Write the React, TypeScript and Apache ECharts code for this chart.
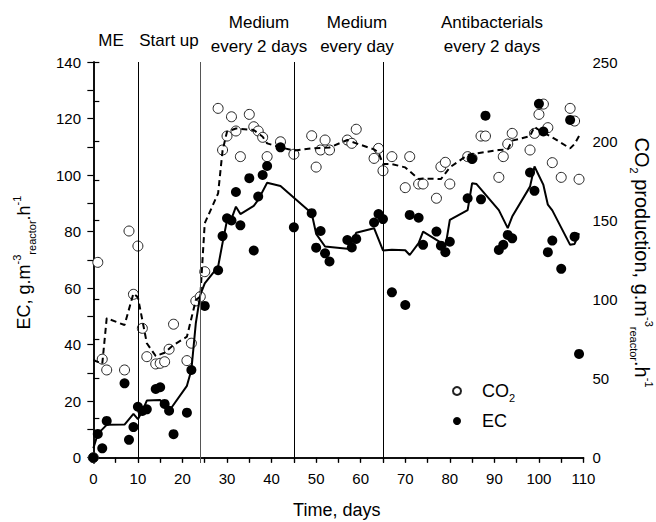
import React, { useEffect, useRef } from "react";
import * as echarts from "echarts";

// ---- Data ----
const co2Days = [0, 1, 2, 3, 7, 8, 9, 10, 11, 12, 14, 15, 16, 17, 18, 21, 22, 23, 24, 25, 28, 29, 30, 31, 32, 33, 35, 36, 37, 38, 39, 42, 45, 49, 50, 51, 52, 53, 57, 58, 59, 63, 64, 65, 67, 70, 71, 73, 74, 77, 78, 79, 80, 84, 85, 87, 88, 91, 92, 93, 94, 98, 99, 100, 101, 102, 103, 105, 107, 108, 109];
const co2Values = [0, 123.4, 62.2, 55.4, 55.4, 143.2, 103.2, 133.7, 81.7, 63.8, 59.2, 59.6, 60.6, 68.5, 84.3, 61.3, 72.3, 99, 101.7, 117.5, 220.7, 194.4, 203.2, 215.4, 206.4, 190.2, 216.9, 209.1, 206.4, 202.4, 190.2, 199.6, 191.7, 203.4, 183.6, 194.4, 200.7, 194.4, 200.7, 198.6, 207.5, 189.1, 195.4, 181.3, 190.2, 170.6, 190.2, 172.9, 172.9, 163.9, 183.8, 186.6, 172.9, 190.2, 189.1, 203.2, 203.2, 177.1, 190.2, 198.2, 204.9, 194.4, 204.9, 216.9, 223.4, 208.5, 186.4, 177.1, 220.7, 212.7, 175.9];

const ecDays = [0, 1, 2, 3, 7, 8, 9, 10, 11, 12, 14, 15, 16, 17, 18, 21, 22, 25, 28, 29, 30, 31, 32, 33, 35, 36, 37, 38, 39, 42, 45, 49, 50, 51, 52, 53, 57, 58, 59, 63, 64, 65, 67, 70, 71, 73, 74, 77, 78, 79, 80, 84, 85, 87, 88, 91, 92, 93, 94, 98, 99, 100, 101, 102, 103, 105, 107, 108, 109];
const ecValues = [0, 8.4, 3.3, 13.0, 26.3, 6.3, 10.8, 18.0, 16.5, 17.1, 24.3, 24.9, 19.0, 16.6, 8.3, 15.9, 31.0, 53.7, 66.3, 78.4, 84.7, 83.9, 94.0, 82.2, 98.9, 73.3, 92.4, 100.0, 103.2, 109.8, 81.5, 86.5, 74.3, 80.2, 72.3, 69.4, 77.0, 74.4, 77.4, 83.2, 86.2, 84.4, 58.5, 54.0, 85.9, 84.9, 75.3, 80.0, 75.0, 72.7, 76.4, 91.8, 105.7, 91.4, 121.0, 73.5, 75.3, 78.8, 77.6, 100.9, 94.4, 125.2, 115.4, 72.7, 76.8, 66.8, 119.5, 78.2, 36.7];

const ecLineDays = [0, 1, 3, 7, 9, 10, 11, 12, 15, 16, 17, 21, 22, 23, 24, 25, 28, 29, 30, 31, 32, 33, 36, 37, 39, 42, 49, 50, 52, 57, 58, 59, 63, 65, 67, 70, 71, 73, 74, 78, 79, 80, 84, 85, 86, 91, 93, 94, 98, 99, 101, 102, 103, 107, 108, 109];
const ecLineValues = [3.3, 8.4, 11.6, 11.7, 15.5, 13.6, 16.5, 20.2, 20.4, 18.0, 16.5, 25.4, 31.0, 47.6, 57.6, 61.7, 67.6, 76, 84, 84.5, 88.8, 86.2, 89.1, 91.2, 97.3, 96.1, 86.5, 79.2, 74.7, 73.9, 76.1, 79.6, 81.2, 73.3, 73.6, 73.4, 71.7, 75.9, 80.0, 76.1, 74.5, 84.1, 87.6, 97.1, 96.8, 87.6, 81.2, 85.3, 95.9, 103, 96.5, 89.5, 87.5, 75.3, 75.6, 79.4];

const co2LineDays = [0, 2, 3, 7, 9, 10, 12, 14, 16, 18, 21, 23, 24, 25, 28, 29, 30, 31, 32, 36, 38, 39, 42, 45, 49, 53, 57, 59, 63, 64, 65, 67, 70, 73, 74, 78, 80, 84, 85, 91, 93, 94, 98, 99, 100, 102, 103, 107, 108, 109];
const co2LineValues = [61.7, 59.2, 88.1, 83.8, 103.8, 101.3, 72.3, 64.2, 66.3, 71.2, 76.4, 99.6, 101.7, 148.1, 167, 194, 206, 207, 208, 207, 202.8, 198.6, 196.1, 194, 195.4, 196, 200.7, 198.6, 194.8, 192.7, 185.5, 185.5, 183.4, 176, 176.4, 176, 183.4, 191.2, 191.8, 194.4, 194.8, 200.3, 203.2, 209.1, 207, 203.9, 202.4, 195.4, 198.2, 203.2];

const phaseBoundaries = [10, 24, 45, 65];
const xLabelValues = [0, 10, 20, 30, 40, 50, 60, 70, 80, 90, 100, 110];
const xTickValues = [0, 5, 10, 15, 20, 25, 30, 35, 40, 45, 50, 55, 60, 65, 70, 75, 80, 85, 90, 95, 100, 105, 110];
const ecLabelValues = [0, 20, 40, 60, 80, 100, 120, 140];
const ecTickValues = [0, 10, 20, 30, 40, 50, 60, 70, 80, 90, 100, 110, 120, 130, 140];
const co2LabelValues = [0, 50, 100, 150, 200, 250];
const co2TickValues = [0, 25, 50, 75, 100, 125, 150, 175, 200, 225, 250];

const phaseLabels = [
  { lines: ["ME"], center: 111 },
  { lines: ["Start up"], center: 169 },
  { lines: ["Medium", "every 2 days"], center: 259 },
  { lines: ["Medium", "every day"], center: 357 },
  { lines: ["Antibacterials", "every 2 days"], center: 492 },
];

const FONT = "'Liberation Sans', Arial, Helvetica, sans-serif";

const zip = (xs: number[], ys: number[]) => xs.map((x, i) => [x, ys[i]]);

export default function App() {
  const ref = useRef<HTMLDivElement>(null);

  useEffect(() => {
    if (!ref.current) return;
    const chart = echarts.init(ref.current, undefined, { renderer: "svg" });

    const txt = (text: string, x: number, y: number) => ({
      type: "text",
      x,
      y,
      style: { text, fontSize: 17, fontFamily: FONT, fill: "#000", align: "center", verticalAlign: "middle" },
    });
    const graphics: any[] = [];
    phaseLabels.forEach((p) => {
      if (p.lines.length === 1) {
        graphics.push(txt(p.lines[0], p.center, 40));
      } else {
        graphics.push(txt(p.lines[0], p.center, 22));
        graphics.push(txt(p.lines[1], p.center, 46));
      }
    });

    const axisLine = { show: true, lineStyle: { color: "#000", width: 1.5 } };
    const labelStyle = { color: "#000", fontSize: 15, fontFamily: FONT };
    const richTitle = (size: number) => ({
      a: { fontSize: size, fontFamily: FONT, color: "#000", lineHeight: 26 },
      sup: { fontSize: 11, fontFamily: FONT, color: "#000", verticalAlign: "top", lineHeight: 26 },
      sub: { fontSize: 11, fontFamily: FONT, color: "#000", verticalAlign: "bottom", lineHeight: 26 },
    });

    const option: any = {
      animation: false,
      backgroundColor: "#fff",
      grid: { left: 90, right: 72.5, top: 62, bottom: 59, containLabel: false, outerBoundsMode: "none" },
      graphic: graphics,
      legend: {
        data: ["CO2", "EC"],
        orient: "vertical",
        left: 447,
        top: 377,
        itemWidth: 8,
        itemHeight: 8,
        itemGap: 9,
        formatter: (name: string) => (name === "CO2" ? "{a|CO}{s|2}" : "{a|EC}"),
        textStyle: {
          padding: [0, 0, 0, 16],
          rich: {
            a: { fontSize: 18, fontFamily: FONT, color: "#000", lineHeight: 24 },
            s: { fontSize: 11, fontFamily: FONT, color: "#000", verticalAlign: "bottom", lineHeight: 24 },
          },
        },
      },
      xAxis: [
        {
          type: "value",
          position: "bottom",
          min: -0.75,
          max: 110,
          axisLine,
          splitLine: { show: false },
          axisTick: { show: true, inside: false, length: 5, customValues: xTickValues, lineStyle: { color: "#000", width: 1.2 } },
          axisLabel: { ...labelStyle, margin: 8, customValues: xLabelValues },
          name: "Time, days",
          nameLocation: "middle",
          nameGap: 38,
          nameTextStyle: { fontSize: 18, fontFamily: FONT, color: "#000" },
        },
        {
          type: "value",
          position: "top",
          min: -0.75,
          max: 110,
          axisLine,
          splitLine: { show: false },
          axisTick: { show: true, inside: true, length: 5, customValues: xTickValues, lineStyle: { color: "#000", width: 1.2 } },
          axisLabel: { show: false },
        },
      ],
      yAxis: [
        {
          type: "value",
          position: "left",
          min: -1.9,
          max: 140,
          axisLine,
          splitLine: { show: false },
          axisTick: { show: true, inside: false, length: 6, customValues: ecTickValues, lineStyle: { color: "#000", width: 1.2 } },
          axisLabel: { ...labelStyle, margin: 9, customValues: ecLabelValues },
          name: "{a|EC, g.m}{sup|-3}{sub|reactor}{a|.h}{sup|-1}",
          nameLocation: "middle",
          nameRotate: 90,
          nameGap: 53,
          nameTextStyle: { rich: richTitle(18) },
        },
        {
          type: "value",
          position: "right",
          min: -3.393,
          max: 250,
          axisLine,
          splitLine: { show: false },
          axisTick: { show: true, inside: false, length: 6, customValues: co2TickValues, lineStyle: { color: "#000", width: 1.2 } },
          axisLabel: { ...labelStyle, margin: 9, customValues: co2LabelValues },
          name: "{a|CO}{sub|2}{a| production, g.m}{sup|-3}{sub|reactor}{a|.h}{sup|-1}",
          nameLocation: "middle",
          nameRotate: -90,
          nameGap: 45,
          nameTextStyle: { rich: richTitle(20) },
        },
      ],
      series: [
        {
          name: "CO2",
          type: "scatter",
          xAxisIndex: 0,
          yAxisIndex: 1,
          symbol: "circle",
          symbolSize: 10,
          itemStyle: { color: "#fff", borderColor: "#222", borderWidth: 1, opacity: 1 },
          data: zip(co2Days, co2Values),
          z: 2,
        },
        {
          name: "EC",
          type: "scatter",
          xAxisIndex: 0,
          yAxisIndex: 0,
          symbol: "circle",
          symbolSize: 10,
          itemStyle: { color: "#000", opacity: 1 },
          data: zip(ecDays, ecValues),
          z: 3,
        },
        {
          name: "EC fit",
          type: "line",
          xAxisIndex: 0,
          yAxisIndex: 0,
          showSymbol: false,
          symbol: "none",
          lineStyle: { color: "#000", width: 2 },
          data: zip(ecLineDays, ecLineValues),
          z: 4,
          markLine: {
            silent: true,
            symbol: ["none", "none"],
            label: { show: false },
            lineStyle: { color: "#000", width: 1, type: "solid" },
            data: phaseBoundaries.map((d) => ({
              xAxis: d,
              lineStyle: { color: d === 24 ? "#555" : "#000", width: 1, type: "solid" },
            })),
          },
        },
        {
          name: "CO2 fit",
          type: "line",
          xAxisIndex: 0,
          yAxisIndex: 1,
          showSymbol: false,
          symbol: "none",
          lineStyle: { color: "#000", width: 2, type: [6, 4] },
          data: zip(co2LineDays, co2LineValues),
          z: 4,
        },
      ],
    };

    chart.setOption(option);
    return () => chart.dispose();
  }, []);

  return (
    <div
      ref={ref}
      style={{ position: "fixed", left: 0, top: 0, width: 656, height: 522, background: "#fff" }}
    />
  );
}
